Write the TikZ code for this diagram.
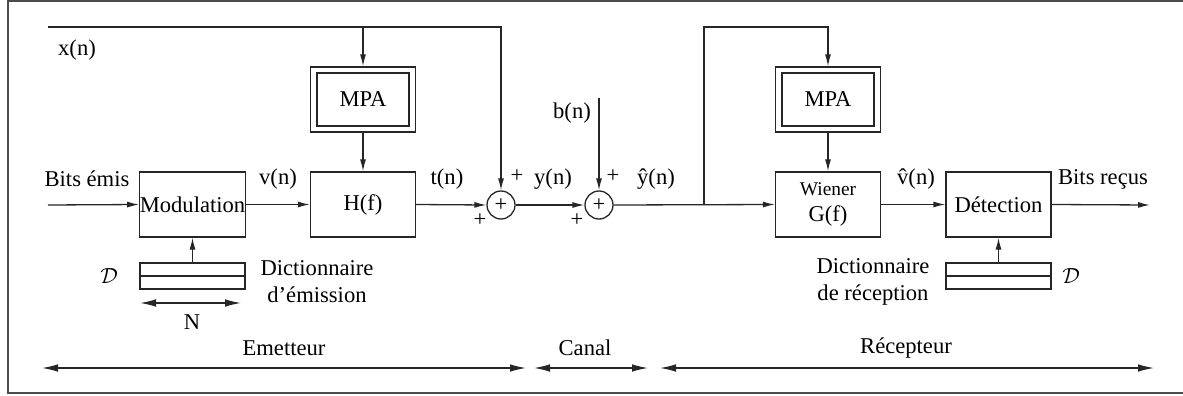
\documentclass[tikz,border=0pt]{standalone}
\usepackage{fontspec}
\setmainfont{Liberation Serif}
\usetikzlibrary{arrows.meta}
\begin{document}
\begin{tikzpicture}[x=0.5pt,y=-0.5pt,
  every node/.style={font=\fontsize{11.3pt}{13.5pt}\selectfont},
  line/.style={draw=black!85, line width=0.65pt},
  sig/.style={line, -{Latex[length=6pt,width=3pt]}},
  span/.style={line, {Latex[length=8pt,width=3.8pt]}-{Latex[length=8pt,width=3.8pt]}},
  blk/.style={draw=black!85, line width=0.65pt, inner sep=0pt, minimum width=52.5pt, minimum height=32.5pt},
  inblk/.style={draw=black!85, line width=0.65pt, inner sep=0pt, minimum width=46pt, minimum height=26.5pt},
  sum/.style={draw=black!85, line width=0.65pt, circle, inner sep=0pt, minimum size=14pt},
  dict/.style={draw=black!85, line width=0.65pt, inner sep=0pt, minimum width=52.5pt, minimum height=13pt},
  lbl/.style={inner sep=0pt}
]
\useasboundingbox (0,0) rectangle (1183,396);
% frame
\draw[gray!60!black, line width=0.9pt] (1190,1) -- (8,1) -- (8,393) -- (1190,393);

% blocks
\node[blk] (mod) at (192.5,204.5) {Modulation};
\node[blk] (hf) at (363,204.5) {H(f)};
\node[blk] (mpa1) at (363,99.5) {};
\node[inblk] (mpa1i) at (363,99.5) {MPA};
\node[sum] (add1) at (501,205) {+};
\node[sum] (add2) at (599,205) {+};
\node[blk, align=center] (wien) at (828,204.5) {{\fontsize{9.7pt}{11pt}\selectfont Wiener}\\[-0.5pt]G(f)};
\node[blk] (mpa2) at (828,99.5) {};
\node[inblk] (mpa2i) at (828,99.5) {MPA};
\node[blk] (det) at (998.5,204.5) {Détection};
\node[dict] (dict1) at (192.5,276) {};
\node[dict] (dict2) at (998.5,276) {};
\draw[line] (dict1.west) -- (dict1.east);
\draw[line] (dict2.west) -- (dict2.east);

% coordinates
\coordinate (in) at (48,205);
\coordinate (xs) at (48,27);
\coordinate (xm) at (363,27);
\coordinate (xc) at (501,27);
\coordinate (bs) at (599,98);
\coordinate (br) at (704,205);
\coordinate (bu) at (704,27);
\coordinate (bm) at (828,27);
\coordinate (out) at (1150,205);
\coordinate (na) at (140,303);
\coordinate (nb) at (241,303);
\coordinate (ea) at (42,368);
\coordinate (eb) at (526,368);
\coordinate (ca) at (534,368);
\coordinate (cb) at (648,368);
\coordinate (ra) at (660,368);
\coordinate (rb) at (1154,368);

% connectors
\draw[sig] (in) -- (mod.west);
\draw[sig] (mod.east) -- (hf.west);
\draw[sig] (hf.east) -- (add1.west);
\draw[sig] (xs) -- (xc) -- (add1.north);
\draw[sig] (xm) -- (mpa1.north);
\draw[sig] (mpa1.south) -- (hf.north);
\draw[sig] (add1.east) -- (add2.west);
\draw[sig] (bs) -- (add2.north);
\draw[sig] (add2.east) -- (wien.west);
\draw[sig] (br) -- (bu) -- (bm) -- (mpa2.north);
\draw[sig] (mpa2.south) -- (wien.north);
\draw[sig] (wien.east) -- (det.west);
\draw[sig] (det.east) -- (out);
\draw[sig] (dict1.north) -- (mod.south);
\draw[sig] (dict2.north) -- (det.south);
\draw[span] (na) -- (nb);
\draw[span] (ea) -- (eb);
\draw[span] (ca) -- (cb);
\draw[span] (ra) -- (rb);

% labels
\node[lbl] (lx) at (77,50) {x(n)};
\node[lbl] (lbits) at (87,179) {Bits émis};
\node[lbl] (lv) at (278,179) {v(n)};
\node[lbl] (lt) at (447,179) {t(n)};
\node[lbl] (p1) at (517,176) {+};
\node[lbl] (p2) at (480,220) {+};
\node[lbl] (ly) at (553,179) {y(n)};
\node[lbl] (lb) at (572,113) {b(n)};
\node[lbl] (p3) at (613,176) {+};
\node[lbl] (p4) at (577,220) {+};
\node[lbl] (lyh) at (656,179) {ŷ(n)};
\node[lbl] (lvh) at (916,179) {v̂(n)};
\node[lbl] (lbr) at (1103,179) {Bits reçus};
\node[lbl] (d1) at (109,276) {$\mathcal{D}$};
\node[lbl] (d2) at (1071,276) {$\mathcal{D}$};
\node[lbl, align=center] (de) at (317,282) {Dictionnaire\\d’émission};
\node[lbl, align=center] (dr) at (873,282) {Dictionnaire\\de réception};
\node[lbl] (ln) at (192,322) {N};
\node[lbl] (le) at (284,348) {Emetteur};
\node[lbl] (lc) at (585,348) {Canal};
\node[lbl] (lr) at (906,348) {Récepteur};
\end{tikzpicture}
\end{document}
